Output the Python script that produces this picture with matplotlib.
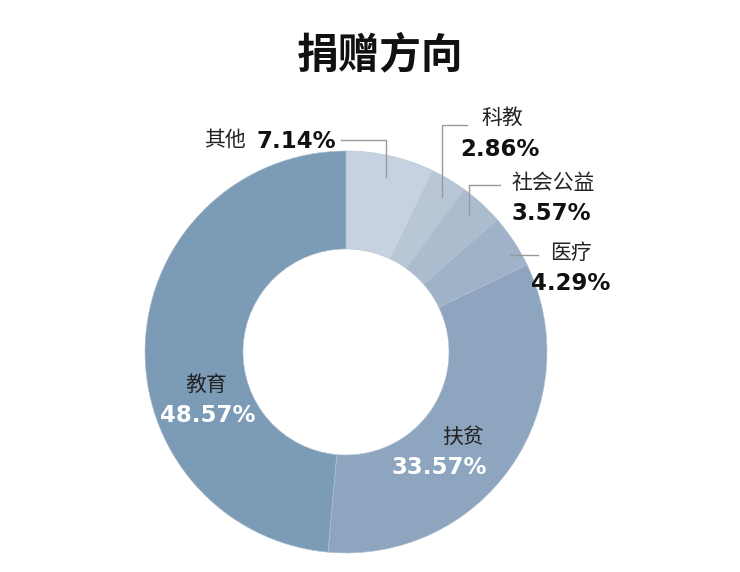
import matplotlib.pyplot as plt

plt.rcParams['font.family'] = ['Noto Sans CJK SC', 'DejaVu Sans']

# 数据 (顺时针, 从12点开始)
categories = ['其他', '科教', '社会公益', '医疗', '扶贫', '教育']
values = [7.14, 2.86, 3.57, 4.29, 33.57, 48.57]
pct_labels = ['7.14%', '2.86%', '3.57%', '4.29%', '33.57%', '48.57%']
colors = ['#c6d2df', '#b8c6d6', '#abbccf', '#9fb2c8', '#8ea5c0', '#7c9bb7']

fig = plt.figure(figsize=(7.4, 5.72), dpi=100)
ax = fig.add_axes([0, 0, 1, 1])

# 饼图在像素坐标中, y轴翻转, 所以用 counterclock=True 实现视觉上的顺时针
ax.pie(values, colors=colors, startangle=-90, counterclock=True,
       center=(346, 352), radius=201, frame=True,
       wedgeprops=dict(width=98, edgecolor='#b4c2d2', linewidth=0.4))
ax.set_xlim(0, 740)
ax.set_ylim(572, 0)
ax.axis('off')

ax.text(380, 55, '捐赠方向', ha='center', va='center', fontsize=30,
        fontweight='black', color='#111111')

# 引线
lc = '#9a9a9a'
ax.plot([341, 386, 386], [140, 140, 177], color=lc, lw=1)
ax.plot([442, 442, 467], [197, 125, 125], color=lc, lw=1)
ax.plot([469, 469, 500], [215, 185, 185], color=lc, lw=1)
ax.plot([510, 538], [255, 255], color=lc, lw=1)

name_fs = 15
pct_fs = 16.5
numfont = ['DejaVu Sans']

# 其他
ax.text(246, 140, categories[0], ha='right', va='center', fontsize=name_fs, color='#222222')
ax.text(256, 141, pct_labels[0], ha='left', va='center', fontsize=pct_fs,
        fontweight='bold', family=numfont, color='#111111')
# 科教
ax.text(502, 118, categories[1], ha='center', va='center', fontsize=name_fs, color='#222222')
ax.text(500, 149, pct_labels[1], ha='center', va='center', fontsize=pct_fs,
        fontweight='bold', family=numfont, color='#111111')
# 社会公益
ax.text(553, 183, categories[2], ha='center', va='center', fontsize=name_fs, color='#222222')
ax.text(551, 214, pct_labels[2], ha='center', va='center', fontsize=pct_fs,
        fontweight='bold', family=numfont, color='#111111')
# 医疗
ax.text(571, 253, categories[3], ha='center', va='center', fontsize=name_fs, color='#222222')
ax.text(571, 284, pct_labels[3], ha='center', va='center', fontsize=pct_fs,
        fontweight='bold', family=numfont, color='#111111')
# 扶贫
ax.text(463, 437, categories[4], ha='center', va='center', fontsize=name_fs, color='#222222')
ax.text(439, 468, pct_labels[4], ha='center', va='center', fontsize=pct_fs,
        fontweight='bold', family=numfont, color='white')
# 教育
ax.text(206, 385, categories[5], ha='center', va='center', fontsize=name_fs, color='#222222')
ax.text(208, 416, pct_labels[5], ha='center', va='center', fontsize=pct_fs,
        fontweight='bold', family=numfont, color='white')

fig.savefig('out.png', dpi=100)
